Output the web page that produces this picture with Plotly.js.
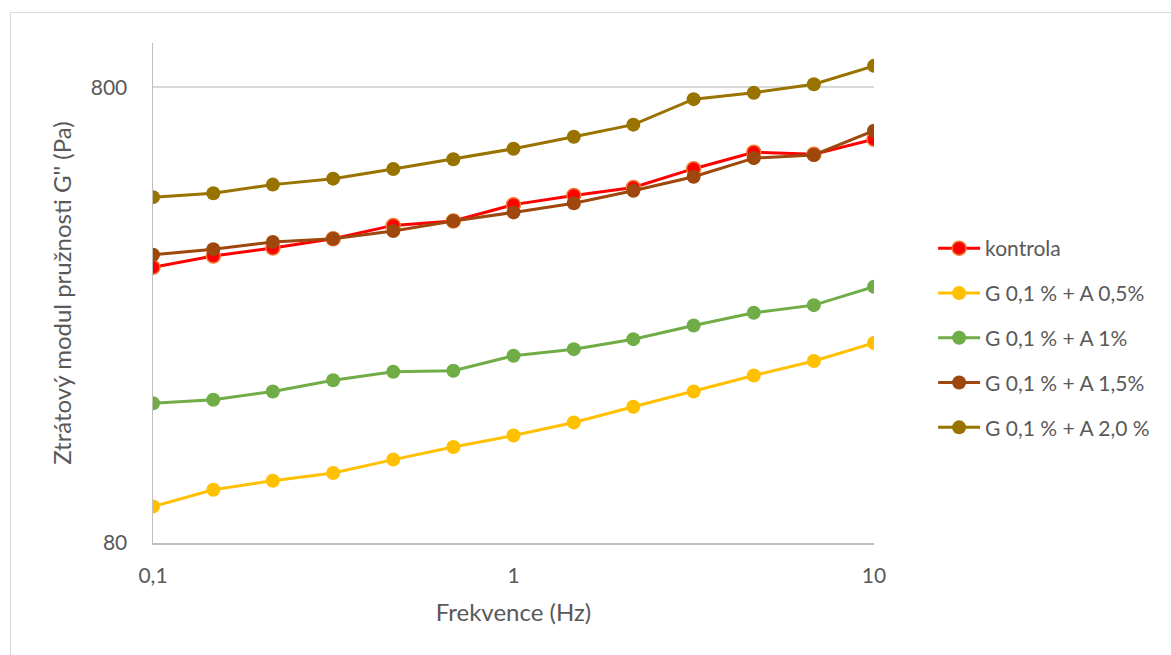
<!DOCTYPE html>
<html>
<head>
<meta charset="utf-8">
<script src="https://cdn.plot.ly/plotly-3.0.1.min.js"></script>
<style>
  html, body { margin: 0; padding: 0; background: #fff; }
  #frame { position: absolute; left: 10px; top: 12px; width: 1170px; height: 660px;
           border: 1px solid #d9d9d9; box-sizing: border-box; }
  #chart { position: absolute; left: 0; top: 0; width: 1171px; height: 655px; }
</style>
</head>
<body>
<div id="frame"></div>
<div id="chart"></div>
<script>
// Frequency sweep (Hz)
const frekvence = [0.1, 0.147, 0.215, 0.316, 0.464, 0.681, 1, 1.47, 2.15, 3.16, 4.64, 6.81, 10];

// Loss modulus G'' (Pa) per sample
const kontrola = [322, 341, 355, 372, 398, 407, 442, 463, 482, 530, 576, 570, 615];
const gA05 = [96.2, 104.7, 109.6, 113.9, 121.9, 129.9, 137.7, 147.1, 159.2, 172, 186.5, 200.6, 219.7];
const gA10 = [162, 165, 172, 182, 190, 191, 206, 213, 224, 240, 256, 266, 292];
const gA15 = [343, 353, 366, 372, 387, 407, 425, 445, 474, 509, 559, 568, 642];
const gA20 = [459, 468, 489, 504, 529, 556, 586, 623, 662, 753, 778, 812, 891];

const seriesNames = ['kontrola', 'G 0,1 % + A 0,5%', 'G 0,1 % + A 1%', 'G 0,1 % + A 1,5%', 'G 0,1 % + A 2,0 %'];

const xTickVals = [0.1, 1, 10];
const xTickText = ['0,1', '1', '10'];
const yTickVals = [80, 800];
const yTickText = ['80', '800'];

const yTitle = 'Ztrátový modul pružnosti G\'\' (Pa)';
const xTitle = 'Frekvence (Hz)';

const styles = [
  { color: '#FF0000', edge: '#ED7D31' },
  { color: '#FFC000', edge: '#FFC000' },
  { color: '#70AD47', edge: '#70AD47' },
  { color: '#9E480E', edge: '#9E480E' },
  { color: '#997300', edge: '#997300' }
];

const values = [kontrola, gA05, gA10, gA15, gA20];

const traces = values.map((v, i) => ({
  type: 'scatter',
  mode: 'lines+markers',
  x: frekvence,
  y: v,
  name: seriesNames[i],
  legendgroup: 'g' + i,
  line: { color: styles[i].color, width: 3 },
  marker: { color: styles[i].color, size: 14, line: { color: styles[i].edge, width: i === 0 ? 1.5 : 0 } }
}));

const fam = 'Lato, "Open Sans", sans-serif';
const grey = '#595959';

const layout = {
  width: 1171,
  height: 655,
  margin: { l: 153, r: 297, t: 43, b: 112 },
  paper_bgcolor: 'rgba(0,0,0,0)',
  plot_bgcolor: 'rgba(0,0,0,0)',
  showlegend: true,
  font: { family: fam, color: grey },
  xaxis: {
    type: 'log',
    range: [-1, 1],
    tickvals: xTickVals,
    ticktext: xTickText,
    showgrid: false,
    zeroline: false,
    showline: true,
    linecolor: '#bfbfbf',
    linewidth: 1.5,
    ticks: 'outside',
    ticklen: 13,
    tickcolor: 'rgba(0,0,0,0)',
    tickfont: { family: fam, size: 21, color: grey },
    title: { text: xTitle, font: { family: fam, size: 24, color: grey }, standoff: 18 }
  },
  yaxis: {
    type: 'log',
    range: [Math.log10(80), 3],
    tickvals: yTickVals,
    ticktext: yTickText,
    showgrid: true,
    gridcolor: '#d9d9d9',
    gridwidth: 1.5,
    zeroline: false,
    showline: true,
    linecolor: '#bfbfbf',
    linewidth: 1.5,
    ticks: 'outside',
    ticklen: 20,
    tickcolor: 'rgba(0,0,0,0)',
    tickfont: { family: fam, size: 21, color: grey }
  },
  // vertical axis caption, set close to the tick labels
  annotations: [{
    text: yTitle,
    xref: 'paper', yref: 'paper',
    x: -0.128, y: 0.5,
    xanchor: 'center', yanchor: 'middle',
    textangle: -90,
    showarrow: false,
    font: { family: fam, size: 24, color: grey }
  }],
  legend: {
    x: 1.082,
    xanchor: 'left',
    y: 0.41,
    yanchor: 'middle',
    tracegroupgap: 14.5,
    font: { family: fam, size: 21, color: grey },
    bgcolor: 'rgba(0,0,0,0)',
    itemwidth: 42
  }
};

Plotly.newPlot('chart', traces, layout, { displayModeBar: false, staticPlot: true });
</script>
</body>
</html>
